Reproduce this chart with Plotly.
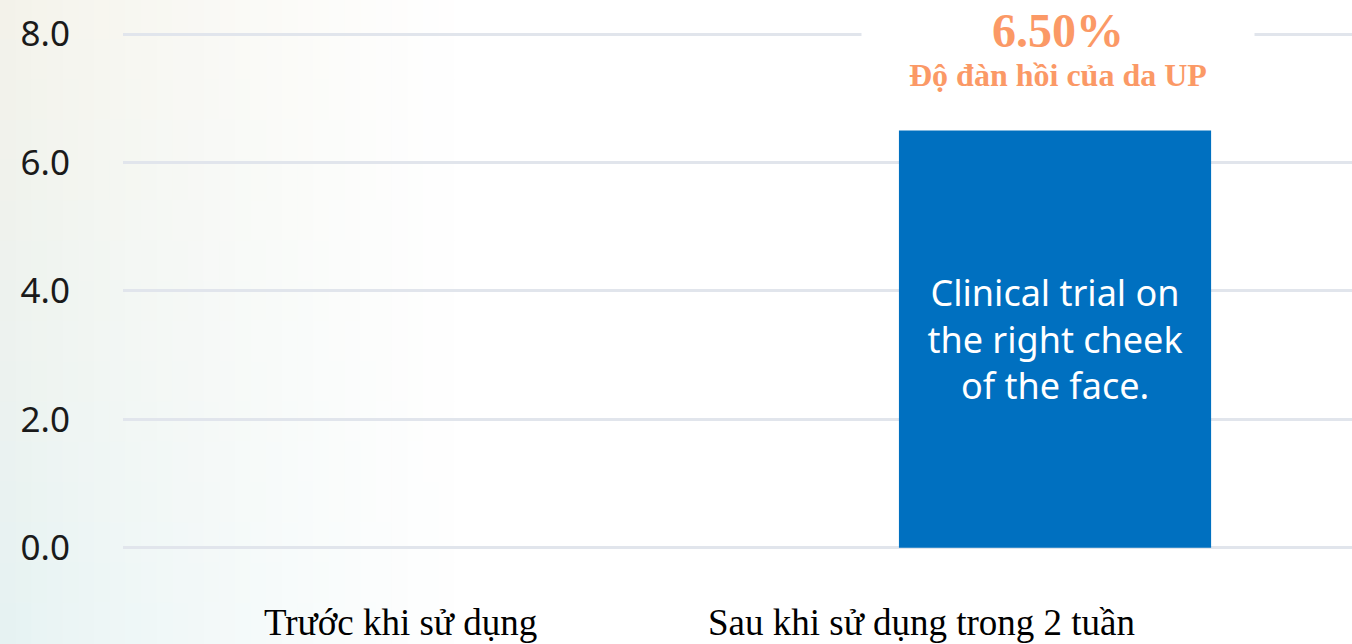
import plotly.graph_objects as go

# ---- data ----
categories = ["Trước khi sử dụng", "Sau khi sử dụng trong 2 tuần"]
values = [0.0, 6.5]
bar_text = ["", "Clinical trial on<br>the right cheek<br>of the face."]
tick_vals = [0, 2, 4, 6, 8]
tick_text = ["0.0", "2.0", "4.0", "6.0", "8.0"]
headline_value = "6.50%"
headline_label = "Độ đàn hồi của da UP"

W, H = 1352, 644
L, T, B = 123, 2, 77
plot_w = W - L
plot_h = H - T - B

fig = go.Figure(
    go.Bar(
        x=categories,
        y=values,
        text=bar_text,
        textposition="inside",
        insidetextanchor="middle",
        constraintext="none",
        textangle=0,
        textfont=dict(family="Noto Sans", size=36, color="white"),
        marker=dict(color="#0070c0", line=dict(width=0)),
        width=0.508,
        hoverinfo="skip",
    )
)

# ---- soft background gradient on the left ----
def lerp(a, b, t):
    return tuple(int(round(a[i] + (b[i] - a[i]) * t)) for i in range(3))

top_col = (243, 242, 233)
bot_col = (229, 242, 242)
white = (255, 255, 255)
ncols, nrows = 30, 16
fade_w = 470.0
shapes = []
for r in range(nrows):
    ty = r / (nrows - 1)          # 0 at top, 1 at bottom
    base = lerp(top_col, bot_col, ty)
    y_top_px = r * H / nrows
    y_bot_px = (r + 1) * H / nrows
    for c in range(ncols):
        tx = (c + 0.5) / ncols
        col = lerp(base, white, tx ** 0.8)
        x0p = c * fade_w / ncols
        x1p = (c + 1) * fade_w / ncols + 1
        shapes.append(dict(
            type="rect", xref="paper", yref="paper", layer="below",
            x0=(x0p - L) / plot_w, x1=(x1p - L) / plot_w,
            y0=((H - B) - y_bot_px) / plot_h,
            y1=((H - B) - y_top_px) / plot_h + 0.002,
            line=dict(width=0), fillcolor="rgb(%d,%d,%d)" % col,
        ))

annotations = []
label_y = ((H - B) - 622) / plot_h
shifts = [-40, -134]
for cat, sh in zip(categories, shifts):
    annotations.append(dict(
        x=cat, xref="x", y=label_y, yref="paper", text=cat, showarrow=False,
        xshift=sh, yanchor="middle",
        font=dict(family="Liberation Serif", size=37, color="#000000"),
    ))

annotations.append(dict(
    x=categories[1], xref="x", y=values[1], yref="y", text="<b>%s</b>" % headline_value,
    showarrow=False, xshift=3, yshift=100, yanchor="middle",
    bgcolor="white", width=390,
    font=dict(family="Liberation Serif", size=48, color="#fb9966"),
))
annotations.append(dict(
    x=categories[1], xref="x", y=values[1], yref="y", text="<b>%s</b>" % headline_label,
    showarrow=False, xshift=3, yshift=55, yanchor="middle",
    font=dict(family="Liberation Serif", size=32, color="#fb9966"),
))

fig.update_layout(
    width=W, height=H,
    margin=dict(l=L, r=0, t=T, b=B),
    paper_bgcolor="white",
    plot_bgcolor="rgba(0,0,0,0)",
    showlegend=False,
    shapes=shapes,
    annotations=annotations,
    xaxis=dict(
        type="category", range=[-0.5167, 1.4833], showticklabels=False,
        showgrid=False, zeroline=False, showline=False, fixedrange=True,
    ),
    yaxis=dict(
        range=[-0.3, 8.5], tickvals=tick_vals, ticktext=tick_text,
        showgrid=True, gridcolor="#e1e5ec", gridwidth=3,
        zeroline=False, showline=False, ticks="",
        ticklabelstandoff=52,
        tickfont=dict(family="Noto Sans", size=35, color="#1a1a1a"),
        fixedrange=True,
    ),
)

fig.write_html(
    "out.html",
    config={"displayModeBar": False},
    post_script="document.body.style.margin='0';document.body.style.padding='0';",
)
